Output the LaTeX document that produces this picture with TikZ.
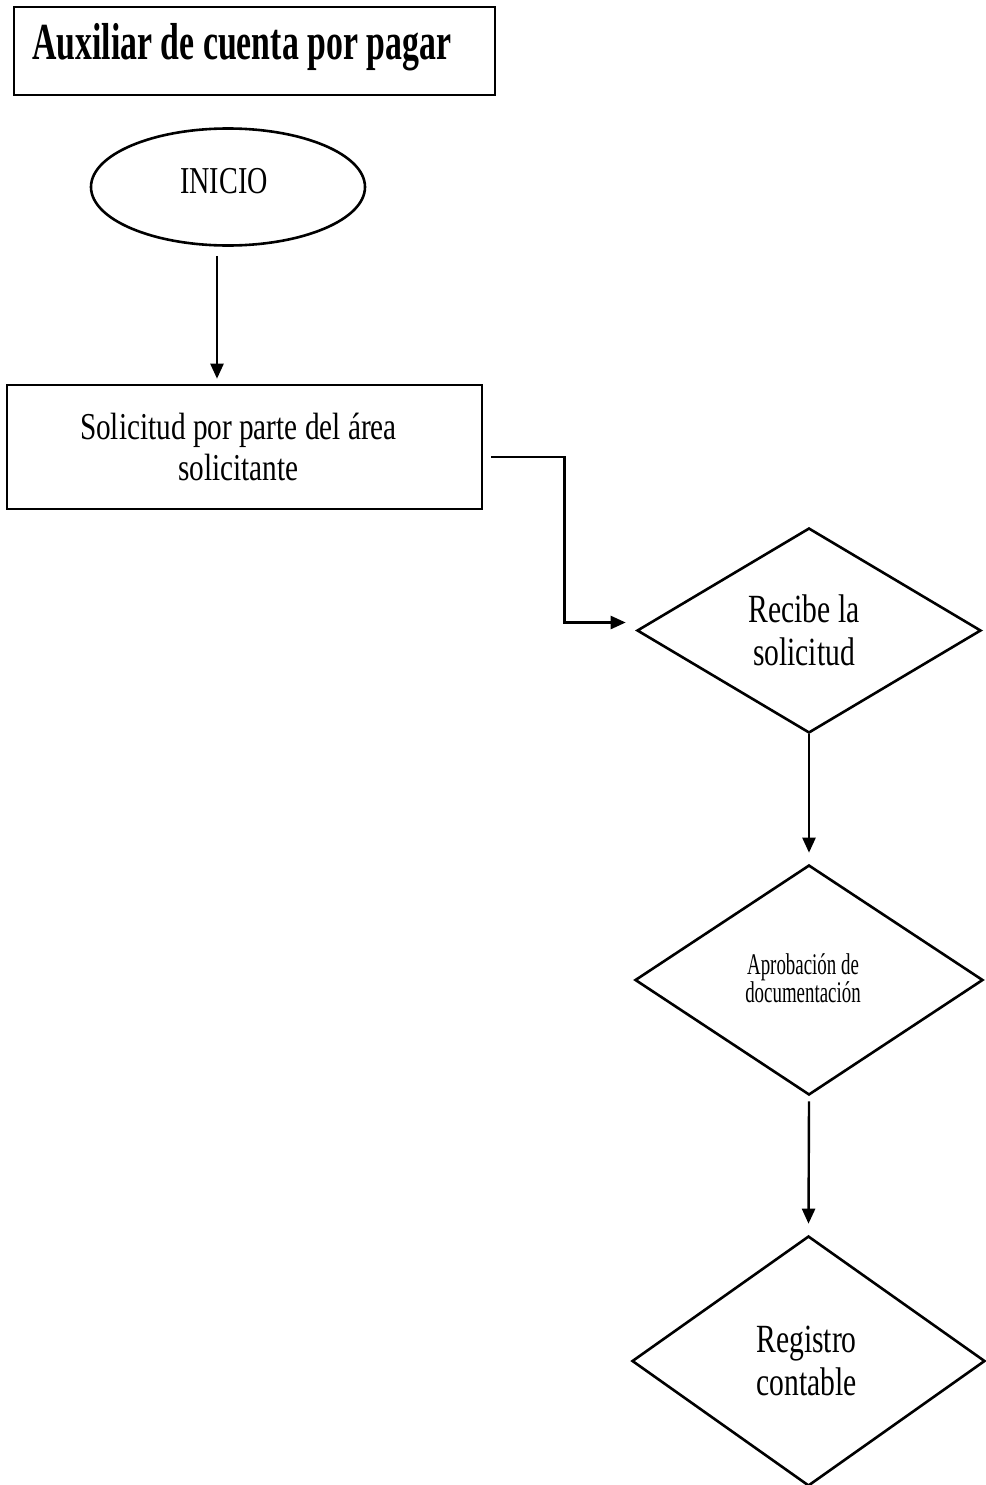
\documentclass[tikz,border=0pt]{standalone}
\usepackage{fontspec}
\setmainfont{Liberation Serif}
\newfontfamily\condfont[FakeStretch=0.74]{Liberation Serif}
\newfontfamily\solfont[FakeStretch=0.77]{Liberation Serif}
\newfontfamily\titlefont[FakeStretch=0.65]{Liberation Serif}
\newfontfamily\narrowfont[FakeStretch=0.63]{Liberation Serif}
\usetikzlibrary{shapes.geometric,arrows.meta}
\begin{document}
\begin{tikzpicture}[x=1pt,y=-1pt,line width=2.6pt,
  arr/.style={line width=2.4pt,-{Triangle[length=15pt,width=13pt]}},
  box/.style={draw,line width=2.6pt,rectangle,inner sep=0pt},
  dia/.style={draw,line width=2.6pt,diamond,inner sep=0pt,align=center},
  bodytext/.style={font=\solfont\fontsize{38}{41}\selectfont},
  diatext/.style={font=\condfont\fontsize{40}{43}\selectfont}
]
\useasboundingbox[fill=white] (0,0) rectangle (985,1485);

% title
\node[box,minimum width=481pt,minimum height=88pt] (titlebox) at (254.5,51) {};
\node[anchor=base west,inner sep=0pt,font=\titlefont\bfseries\fontsize{52}{56}\selectfont] (title) at (31,60) {Auxiliar de cuenta por pagar};

% start
\node[draw,line width=2.6pt,ellipse,minimum width=274pt,minimum height=117pt,inner sep=0pt,
      font=\condfont\fontsize{38}{41}\selectfont] (inicio) at (228,187) {\hspace*{-8pt}\raisebox{12pt}{INICIO}};

% request box
\node[box,minimum width=475pt,minimum height=124pt,align=center,bodytext] (sol) at (244.5,447)
  {\hspace*{-12pt}Solicitud por parte del área\\\hspace*{-12pt}solicitante};

% diamonds
\node[dia,minimum width=344pt,minimum height=205pt,diatext] (d1) at (809,630.5)
  {\hspace*{-10pt}Recibe la\\\hspace*{-10pt}solicitud};
\node[dia,minimum width=348pt,minimum height=230pt,font=\narrowfont\fontsize{30}{28}\selectfont] (d2) at (809,980)
  {\raisebox{4pt}{\hspace*{-12pt}Aprobación de}\\\raisebox{4pt}{\hspace*{-12pt}documentación}};
\node[dia,minimum width=353pt,minimum height=250pt,diatext] (d3) at (808.5,1361)
  {\hspace*{-4pt}Registro\\\hspace*{-4pt}contable};

% connectors
\draw[arr] ([xshift=-11pt,yshift=-9pt]inicio.south) -- ([xshift=-27.5pt,yshift=5pt]sol.north);
\draw[arr] ([xshift=8pt,yshift=-10pt]sol.east) -- ++(73,0) |- ([xshift=-10pt,yshift=8pt]d1.west);
\draw[arr] (d1.south) -- ([yshift=11pt]d2.north);
\draw[arr] ([yshift=-5pt]d2.south) -- ([yshift=11pt]d3.north);
\end{tikzpicture}
\end{document}
